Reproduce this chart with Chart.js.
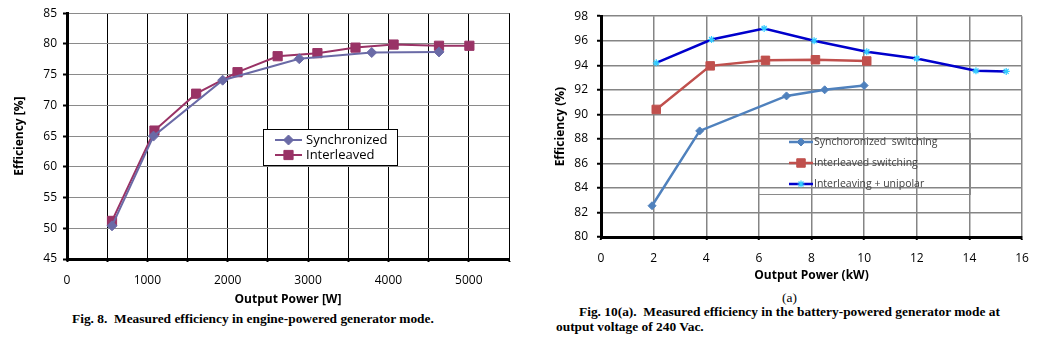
<!DOCTYPE html>
<html><head><meta charset="utf-8">
<script src="https://cdn.jsdelivr.net/npm/chart.js@4/dist/chart.umd.min.js"></script>
<style>
html,body{margin:0;padding:0;background:#fff;width:1055px;height:339px;overflow:hidden;position:relative}
canvas{position:absolute;display:block}
.cap{position:absolute;font-family:"Liberation Serif","Times New Roman",serif;font-weight:bold;font-size:13.4px;white-space:nowrap;color:#000;line-height:1}
</style></head><body>
<canvas id="c1" width="520" height="310" style="left:0;top:0"></canvas>
<canvas id="c2" width="525" height="290" style="left:530px;top:0"></canvas>
<div class="cap" style="left:72px;top:312px">Fig. 8.&nbsp; Measured efficiency in engine-powered generator mode.</div>
<div class="cap" style="left:782px;top:291px;font-weight:normal">(a)</div>
<div class="cap" style="left:579px;top:305px">Fig. 10(a).&nbsp; Measured efficiency in the battery-powered generator mode at</div>
<div class="cap" style="left:556px;top:320px">output voltage of 240 Vac.</div>
<script>
// ---- Fig. 8 data ----
const fig8SyncPower = [560, 1076, 1937, 2890, 3792, 4629];
const fig8SyncEff   = [50.4, 65.0, 74.1, 77.6, 78.6, 78.7];
const fig8InterPower = [560, 1088, 1607, 2122, 2621, 3116, 3590, 4064, 4629, 5007];
const fig8InterEff   = [51.2, 65.9, 71.9, 75.4, 78.0, 78.5, 79.4, 79.9, 79.7, 79.7];
const fig8Labels = ['Synchronized', 'Interleaved'];
// ---- Fig. 10(a) data ----
const fig10SyncKW  = [1.94, 3.75, 7.05, 8.5, 10.0];
const fig10SyncEff = [82.55, 88.65, 91.5, 92.0, 92.35];
const fig10InterKW  = [2.1, 4.15, 6.25, 8.15, 10.1];
const fig10InterEff = [90.4, 93.95, 94.4, 94.45, 94.35];
const fig10UniKW  = [2.1, 4.2, 6.2, 8.1, 10.1, 12.0, 14.25, 15.4];
const fig10UniEff = [94.2, 96.1, 97.0, 96.0, 95.1, 94.55, 93.55, 93.5];
const fig10Labels = ['Synchoronized  switching', 'Interleaved switching', 'Interleaving + unipolar'];

const F = '"Open Sans", "DejaVu Sans", sans-serif';
const pts = (xs, ys) => xs.map((x, i) => ({x, y: ys[i]}));

const boxLegend = {
  id: 'boxLegend',
  afterDatasetsDraw(chart, args, o) {
    const ctx = chart.ctx;
    ctx.save();
    if (o.fill) { ctx.fillStyle = o.fill; ctx.fillRect(o.x, o.y, o.w, o.h); }
    ctx.strokeStyle = o.border; ctx.lineWidth = o.borderWidth;
    ctx.strokeRect(o.x + 0.5, o.y + 0.5, o.w, o.h);
    chart.data.datasets.forEach((ds, i) => {
      const y = o.rows[i];
      ctx.strokeStyle = ds.borderColor; ctx.lineWidth = ds.borderWidth;
      ctx.beginPath(); ctx.moveTo(o.lineX0, y); ctx.lineTo(o.lineX1, y); ctx.stroke();
      ctx.fillStyle = ds.pointBackgroundColor; ctx.strokeStyle = ds.pointBorderColor;
      ctx.lineWidth = ds.pointBorderWidth;
      Chart.helpers.drawPoint(ctx, {pointStyle: ds.pointStyle, radius: ds.pointRadius, rotation: 0, borderWidth: ds.pointBorderWidth}, (o.lineX0 + o.lineX1) / 2, y);
      ctx.font = o.font; ctx.fillStyle = o.color; ctx.textBaseline = 'middle'; ctx.textAlign = 'left';
      ctx.fillText(ds.label, o.textX, y);
    });
    ctx.restore();
  }
};

new Chart(document.getElementById('c1'), {
  type: 'line',
  data: { datasets: [
    { label: fig8Labels[0], data: pts(fig8SyncPower, fig8SyncEff), borderColor: '#6A6AA6', borderWidth: 2,
      pointStyle: 'rectRot', pointRadius: 5, pointBackgroundColor: '#6A6AA6', pointBorderColor: '#6A6AA6', pointBorderWidth: 1 },
    { label: fig8Labels[1], data: pts(fig8InterPower, fig8InterEff), borderColor: '#993366', borderWidth: 2,
      pointStyle: 'rect', pointRadius: 6.5, pointBackgroundColor: '#993366', pointBorderColor: '#993366', pointBorderWidth: 1 }
  ]},
  options: {
    responsive: false, animation: false,
    layout: { padding: { top: 10, right: 8, left: 0, bottom: 0 } },
    plugins: { legend: { display: false }, tooltip: { enabled: false },
      boxLegend: { x: 263, y: 129, w: 134, h: 36, fill: '#fff', border: '#000', borderWidth: 1,
        rows: [140, 155], lineX0: 275, lineX1: 302, textX: 306, font: '13px ' + F, color: '#000' } },
    scales: {
      x: { type: 'linear', min: 0, max: 5500, afterFit: s => { s.height = 51; },
        ticks: { stepSize: 500, autoSkip: false, maxRotation: 0, padding: 11, color: '#000', font: { family: F, size: 12 },
          callback: v => (v % 1000 === 0 ? String(v) : '') },
        grid: { color: '#000', lineWidth: 1, drawTicks: true, tickLength: 3, tickColor: '#000', tickWidth: 2 },
        border: { color: '#000', width: 3 },
        title: { display: true, text: 'Output Power [W]', color: '#000', font: { family: F, size: 12, weight: 'bold' }, padding: { top: 0, bottom: 3 } } },
      y: { min: 45, max: 85, afterFit: s => { s.width = 67; },
        ticks: { stepSize: 5, padding: 6, color: '#000', font: { family: F, size: 12 } },
        grid: { color: '#8a8a8a', lineWidth: 1, tickLength: 4, tickColor: '#000', tickWidth: 2 },
        border: { color: '#000', width: 3 },
        title: { display: true, text: 'Efficiency [%]', color: '#000', font: { family: F, size: 12, weight: 'bold' }, padding: { top: 12, bottom: 0 } } }
    }
  },
  plugins: [boxLegend]
});

new Chart(document.getElementById('c2'), {
  type: 'line',
  data: { datasets: [
    { label: fig10Labels[0], data: pts(fig10SyncKW, fig10SyncEff), borderColor: '#4F81BD', borderWidth: 2.5,
      pointStyle: 'rectRot', pointRadius: 4, pointBackgroundColor: '#4F81BD', pointBorderColor: '#4F81BD', pointBorderWidth: 1 },
    { label: fig10Labels[1], data: pts(fig10InterKW, fig10InterEff), borderColor: '#C0504D', borderWidth: 2.5,
      pointStyle: 'rect', pointRadius: 6, pointBackgroundColor: '#C0504D', pointBorderColor: '#C0504D', pointBorderWidth: 1 },
    { label: fig10Labels[2], data: pts(fig10UniKW, fig10UniEff), borderColor: '#0000CC', borderWidth: 2.5,
      pointStyle: 'star', pointRadius: 3.5, pointBackgroundColor: '#33CCFF', pointBorderColor: '#33CCFF', pointBorderWidth: 1.2 }
  ]},
  options: {
    responsive: false, animation: false,
    layout: { padding: { top: 12, right: 33, left: 0, bottom: 0 } },
    plugins: { legend: { display: false }, tooltip: { enabled: false },
      boxLegend: { x: 228, y: 133, w: 212, h: 61, fill: null, border: '#8a8a8a', borderWidth: 1,
        rows: [142, 163, 184], lineX0: 259, lineX1: 283, textX: 284, font: '10.5px ' + F, color: '#404040' } },
    scales: {
      x: { type: 'linear', min: 0, max: 16, afterFit: s => { s.height = 53; },
        ticks: { stepSize: 2, autoSkip: false, maxRotation: 0, padding: 11, color: '#000', font: { family: F, size: 12 } },
        grid: { color: '#858585', lineWidth: 1.5, drawTicks: true, tickLength: 3, tickColor: '#000', tickWidth: 2 },
        border: { color: '#000', width: 3 },
        title: { display: true, text: 'Output Power (kW)', color: '#000', font: { family: F, size: 12, weight: 'bold' }, padding: { top: 0, bottom: 7 } } },
      y: { min: 80, max: 98, afterFit: s => { s.width = 71; },
        ticks: { stepSize: 2, padding: 9, color: '#000', font: { family: F, size: 12 } },
        grid: { color: '#858585', lineWidth: 1.5, tickLength: 4, tickColor: '#000', tickWidth: 2 },
        border: { color: '#000', width: 3 },
        title: { display: true, text: 'Efficiency (%)', color: '#000', font: { family: F, size: 12, weight: 'bold' }, padding: { top: 23, bottom: 0 } } }
    }
  },
  plugins: [boxLegend]
});
</script>
</body></html>
